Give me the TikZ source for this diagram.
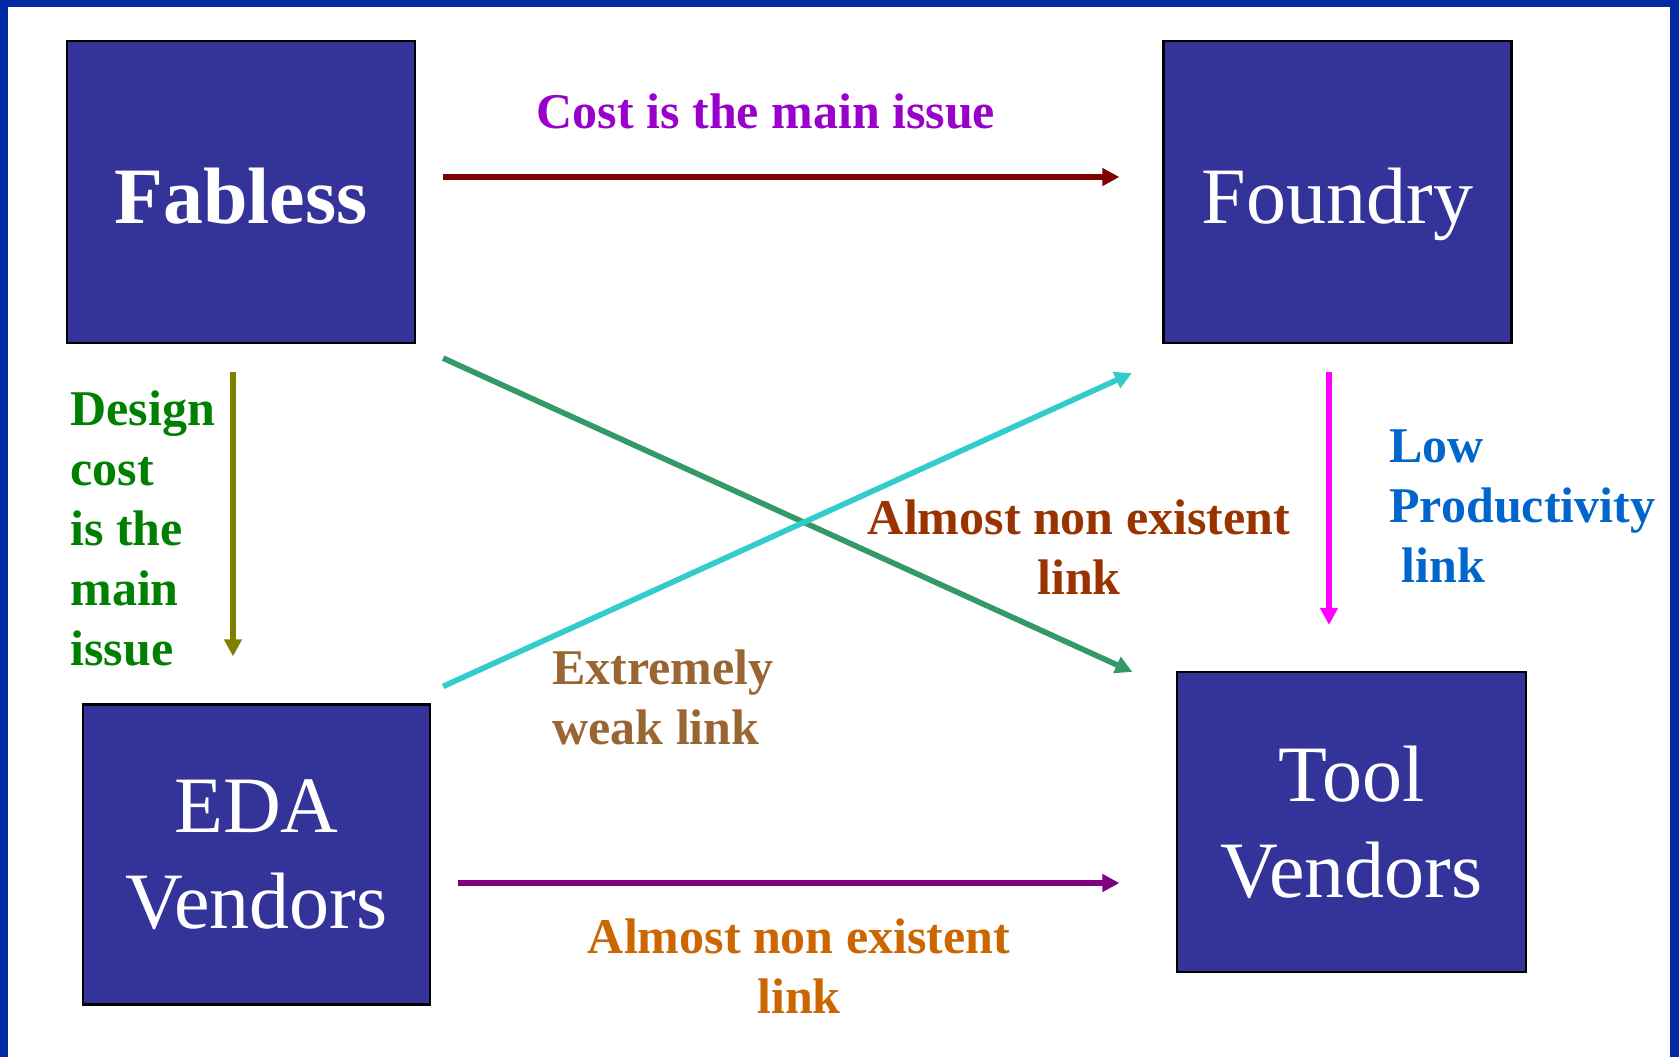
\documentclass[tikz,border=0pt]{standalone}
\usepackage{fontspec}
\setmainfont{Liberation Serif}
\usetikzlibrary{arrows.meta}

\definecolor{frameblue}{RGB}{0,41,163}
\definecolor{boxblue}{HTML}{333399}
\definecolor{linkred}{HTML}{800000}
\definecolor{linkolive}{HTML}{808000}
\definecolor{linkmagenta}{HTML}{FF00FF}
\definecolor{linkgreen}{HTML}{339966}
\definecolor{linkcyan}{HTML}{33CCCC}
\definecolor{linkpurple}{HTML}{800080}
\definecolor{txtviolet}{HTML}{9900CC}
\definecolor{txtgreen}{HTML}{008000}
\definecolor{txtblue}{HTML}{0066CC}
\definecolor{txtbrown}{HTML}{993300}
\definecolor{txttan}{HTML}{996633}
\definecolor{txtorange}{HTML}{CC6600}

\tikzset{
  party/.style={draw=black, line width=1.1pt, fill=boxblue, text=white,
    minimum width=174pt, minimum height=151pt, inner sep=0pt,
    align=center, font=\fontsize{40}{48}\selectfont},
  oneline/.style={text height=31pt, text depth=0pt},
  link/.style={line width=2.8pt, -{Triangle[length=8.5pt,width=8.5pt]}},
  note/.style={inner sep=0pt, font=\fontsize{25}{30}\selectfont\bfseries}
}

\begin{document}
\begin{tikzpicture}[x=0.5pt,y=-0.5pt]
  % page and frame
  \useasboundingbox (0,0) rectangle (1679,1057);
  \fill[white] (0,0) rectangle (1679,1057);
  \fill[frameblue] (0,0) rectangle (1679,7);
  \fill[frameblue] (0,0) rectangle (8,1057);
  \fill[frameblue] (1670,0) rectangle (1679,1057);

  % the four parties
  \node[party, oneline, font=\fontsize{40}{48}\selectfont\bfseries] (fab) at (241,192) {Fabless};
  \node[party, oneline] (fnd) at (1337.5,192) {Foundry};
  \node[party, minimum width=173.5pt, minimum height=150pt] (eda) at (256.5,854.5) {EDA\\Vendors};
  \node[party, minimum width=174.5pt, minimum height=150pt] (tool) at (1351.5,822) {Tool\\Vendors};

  % links
  \draw[link, linkred, shorten <=13.5pt, shorten >=21.5pt]
    ([yshift=7.5pt]fab.east) -- ([yshift=7.5pt]fnd.west);

  \coordinate (dn1) at ([xshift=-4pt]fab.south);
  \draw[link, linkolive, shorten <=14pt, shorten >=23.5pt] (dn1) -- (dn1 |- eda.north);

  \coordinate (dn2) at ([xshift=-4.25pt]fnd.south);
  \draw[link, linkmagenta, shorten <=14pt, shorten >=23pt] (dn2) -- (dn2 |- tool.north);

  \draw[link, linkgreen]
    ([shift={(13.5pt,-7pt)}]fab.south east) -- ([shift={(-21.75pt,-0.5pt)}]tool.north west);
  \draw[link, linkcyan]
    ([shift={(6pt,8.5pt)}]eda.north east) -- ([shift={(-15.25pt,-14.5pt)}]fnd.south west);

  \coordinate (ac) at ([yshift=-14.25pt]eda.east);
  \draw[link, linkpurple, shorten <=13.5pt, shorten >=28.25pt] (ac) -- (ac -| tool.west);

  % link notes (multi-line notes are placed by the baseline of their last line)
  \node[note, text=txtviolet, anchor=base] (n1) at (766,128) {Cost is the main issue};
  \node[note, text=txtgreen, anchor=base west, align=left] (n2) at (70,665)
    {Design\\cost\\is the\\main\\issue};
  \node[note, text=txtblue, anchor=base west, align=left] (n3) at (1389,582)
    {Low\\Productivity\\\hspace*{6pt}link};
  \node[note, text=txtbrown, anchor=base, align=center] (n4) at (1079,594)
    {Almost non existent\\link};
  \node[note, text=txttan, anchor=base west, align=left] (n5) at (552,744)
    {Extremely\\weak link};
  \node[note, text=txtorange, anchor=base, align=center] (n6) at (799,1013)
    {Almost non existent\\link};
\end{tikzpicture}
\end{document}
